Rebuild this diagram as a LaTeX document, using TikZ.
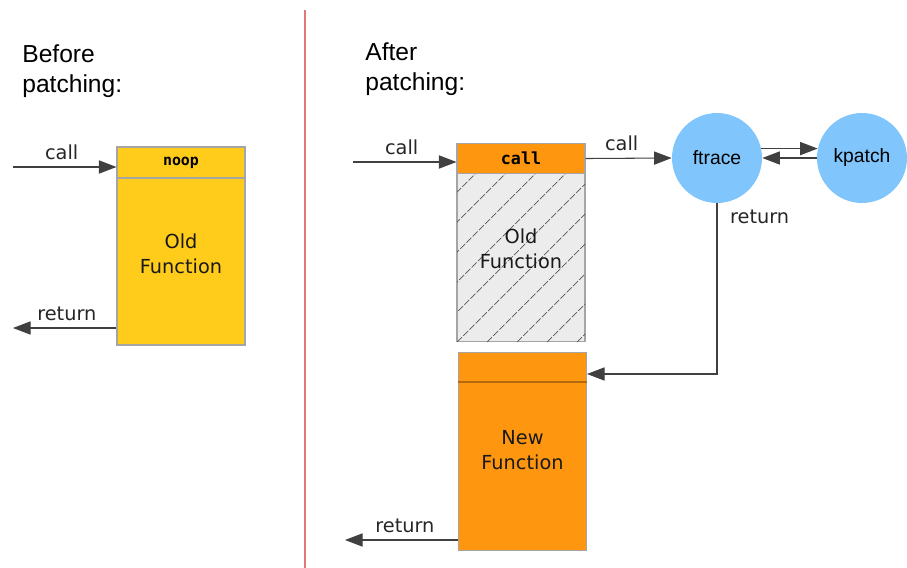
\documentclass[tikz,border=0pt]{standalone}
\usepackage{fontspec}
\setmainfont{Liberation Sans}
\newfontfamily\boxfont{DejaVu Sans}
\newfontfamily\codefont{DejaVu Sans Mono}
\usetikzlibrary{arrows.meta,positioning}

\definecolor{fnyellow}{RGB}{255,204,28}
\definecolor{fnorange}{RGB}{255,150,16}
\definecolor{fnhatch}{RGB}{236,236,236}
\definecolor{ballblue}{RGB}{128,198,252}
\definecolor{boxgrey}{RGB}{165,165,165}
\definecolor{splitred}{RGB}{226,120,120}

\tikzset{
	fnbox/.style={draw=boxgrey, line width=0.6pt, minimum width=2.56cm, minimum height=3.96cm, inner sep=0pt},
	fnband/.style={draw=boxgrey, line width=0.6pt, minimum width=2.56cm, minimum height=0.6cm, anchor=north, inner sep=0pt, font=\codefont\bfseries\fontsize{9.5}{10}\selectfont},
	blob/.style={circle, fill=ballblue, minimum size=1.8cm, inner sep=0pt, font=\fontsize{11}{12}\selectfont},
	arr/.style={-{Triangle[length=10pt,width=7.5pt]}, line width=0.6pt, draw=black!75},
	lbl/.style={font=\boxfont\fontsize{11}{12}\selectfont, text=black!85, inner sep=1pt},
	fntext/.style={font=\boxfont\fontsize{11}{14}\selectfont, align=center, text=black!90},
	heading/.style={font=\fontsize{14}{17}\selectfont, align=left, anchor=north west, inner sep=0pt}
}

\begin{document}
\begin{tikzpicture}[x=0.02cm, y=-0.02cm]
	\useasboundingbox (0, 0) rectangle (907, 568);
	% dividing line
	\draw[splitred, line width=0.8pt] (305, 10) -- (305, 568);

	\node[heading] (before) at (22, 44) {Before\\patching:};
	\node[heading] (after) at (365, 42) {After\\patching:};

	% before patching
	\node[fnbox, fill=fnyellow] (oldfn) at (181, 246) {};
	\node[fnband, fill=fnyellow, minimum height=0.62cm, font=\codefont\bfseries\fontsize{8.5}{9}\selectfont] (noop) at (oldfn.north) {noop};
	\node[fntext] (oldtext) at (181, 254) {Old\\Function};

	\coordinate (callin) at (13, 167);
	\coordinate (retout) at (13, 328);
	\draw[arr] (callin) -- (callin -| oldfn.west) node[lbl, above=3pt, pos=0.47] (calllbl) {call};
	\draw[arr] (retout -| oldfn.west) -- (retout) node[lbl, above=3pt, pos=0.48] (retlbl) {return};

	% after patching
	\node[fnbox, fill=fnhatch] (patched) at (521, 242.5) {};
	\begin{scope}
		\clip (457, 173) rectangle (585, 342);
		\foreach \i in {-240, -210, ..., 150}
			\draw[black!65, line width=0.4pt, dash pattern=on 4pt off 1pt] (457 + \i, 342) -- ++(200, -200);
	\end{scope}
	\node[fnband, fill=fnorange] (callband) at (patched.north) {call};
	\node[fntext] (patchtext) at (521, 249) {Old\\Function};

	\node[fnbox, fill=fnorange] (newfn) at (522.5, 451.5) {};
	\draw[fnorange!70!black, line width=0.8pt] ([yshift=-0.6cm]newfn.north west) -- ([yshift=-0.6cm]newfn.north east);
	\node[fntext] (newtext) at (522.5, 450) {New\\Function};

	\node[blob] (ftrace) at (717, 158) {ftrace};
	\node[blob] (kpatch) at (862, 158) {kpatch};

	\coordinate (callin2) at (353, 162);
	\coordinate (retout2) at (345, 540);
	\draw[arr] (callin2) -- (callin2 -| patched.west) node[lbl, above=3pt, pos=0.47] (calllbl2) {call};
	\draw[arr] (callband.east) -- (ftrace.west) node[lbl, above=3pt, pos=0.42] (calllbl3) {call};
	\draw[arr] (ftrace.12) -- (kpatch.168);
	\draw[arr] (kpatch.west) -- (ftrace.east);
	\draw[arr] (ftrace.south) |- ([yshift=-0.44cm]newfn.north east);
	\node[lbl, anchor=west] (retlbl2) at (728, 217) {return};
	\draw[arr] (retout2 -| newfn.west) -- (retout2) node[lbl, above=3pt, pos=0.47] (retlbl3) {return};
\end{tikzpicture}
\end{document}
